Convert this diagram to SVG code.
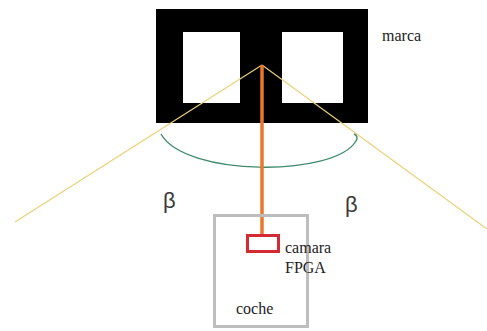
<svg xmlns="http://www.w3.org/2000/svg" width="487" height="331" viewBox="0 0 487 331">
  <style>
    .lbl { font-family: "Liberation Serif", "Times New Roman", serif; font-size: 16px; fill: #222; }
    .beta { font-family: "Liberation Sans", Arial, sans-serif; font-size: 22px; fill: #3a3a3a; }
    .ray { stroke: #ecd078; stroke-width: 1.2; fill: none; }
  </style>
  <rect width="487" height="331" fill="#ffffff"/>

  <!-- marker (black frame with two windows) -->
  <g id="marca">
    <rect x="156" y="9" width="212" height="114" fill="#000"/>
    <rect x="183" y="32" width="57" height="71" fill="#fff"/>
    <rect x="282" y="32" width="61" height="71" fill="#fff"/>
    <text class="lbl" x="382" y="41">marca</text>
  </g>

  <!-- field of view rays, angle arc and axis -->
  <g id="connectors">
    <line class="ray" x1="262" y1="65" x2="15" y2="222"/>
    <line class="ray" x1="262" y1="65" x2="487" y2="229"/>
    <path d="M161,134 C185,177 335,177 356,141 C358,138 357,135 354,134" fill="none" stroke="#3f8a6c" stroke-width="1.4"/>
    <line x1="262" y1="65" x2="262" y2="235" stroke="#e8792c" stroke-width="3.5"/>
  </g>

  <g id="angles">
    <text class="beta" x="163" y="208">β</text>
    <text class="beta" x="345" y="212">β</text>
  </g>

  <!-- car with camera -->
  <g id="coche">
    <rect x="214.5" y="215.5" width="93" height="111" fill="none" stroke="#bdbdbd" stroke-width="3"/>
    <text class="lbl" x="236" y="314">coche</text>
  </g>
  <g id="camara">
    <rect x="247.5" y="235.5" width="31" height="16" fill="#fff" stroke="#d42a34" stroke-width="3"/>
    <text class="lbl" x="285" y="253">camara</text>
    <text class="lbl" x="285" y="273">FPGA</text>
  </g>
</svg>
